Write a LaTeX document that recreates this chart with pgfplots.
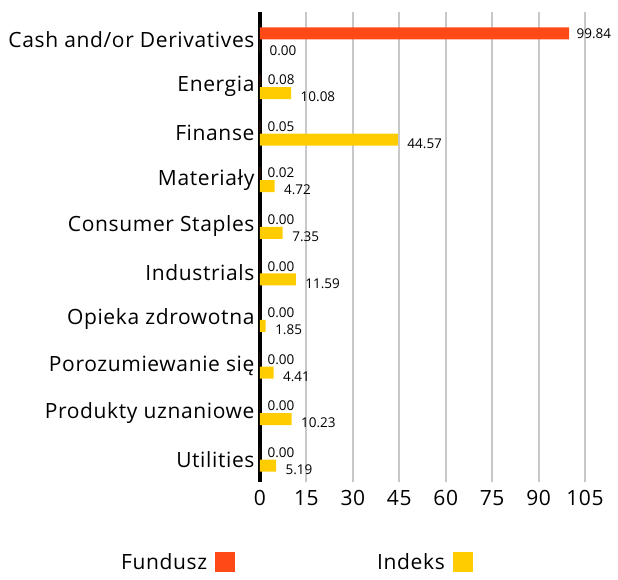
\documentclass[border=0pt]{standalone}
\usepackage{fontspec}
\setmainfont{Open Sans}
\newfontfamily\widefont[LetterSpace=3]{Open Sans}
\usepackage{pgfplots}
\pgfplotsset{compat=1.18}
\definecolor{fund}{HTML}{FF4A17}
\definecolor{idx}{HTML}{FFCC00}
\definecolor{gridc}{HTML}{C8C8C8}
\begin{document}
\begin{tikzpicture}
\begin{axis}[
  scale only axis,
  width=325pt, height=470pt,
  xbar, bar width=12pt,
  xmin=0, xmax=105,
  ymin=-0.49, ymax=9.6,
  xtick={0,15,...,105},
  ytick={0,...,9},
  yticklabels={Utilities,Produkty uznaniowe,Porozumiewanie się,Opieka zdrowotna,Industrials,Consumer Staples,Materiały,Finanse,Energia,Cash and/or Derivatives},
  /pgf/number format/assume math mode=true,
  ticklabel style={font=\widefont\fontsize{21}{25}\selectfont},
  xticklabel style={yshift=-5pt},
  yticklabel style={xshift=-2pt},
  major tick length=0pt,
  axis lines*=left,
  x axis line style={draw=none},
  y axis line style={line width=4pt, black},
  xmajorgrids,
  major grid style={gridc, line width=2pt},
  legend columns=2,
  legend plot pos=right,
  legend style={at={(rel axis cs:0,0)}, anchor=north west, xshift=-144pt, yshift=-67pt,
    draw=none, fill=none, font=\widefont\fontsize{21}{25}\selectfont,
    /tikz/every even column/.append style={column sep=140pt}},
  legend image code/.code={\path (0pt,0pt); \fill[#1] (6pt,-10pt) rectangle (26pt,10pt);},
  nodes near coords={\pgfmathprintnumber[fixed,fixed zerofill,precision=2]{\pgfplotspointmeta}},
  nodes near coords style={font=\fontsize{13.5}{15}\selectfont, black},
  clip=false,
]
\addplot[fill=fund, draw=none, bar shift=6.5pt,
  every node near coord/.append style={anchor=west, xshift=4pt}]
  coordinates {(99.84,9) (0.08,8) (0.05,7) (0.02,6) (0,5) (0,4) (0,3) (0,2) (0,1) (0,0)};
\addlegendentry{Fundusz}
\addplot[fill=idx, draw=none, bar shift=-6.5pt,
  every node near coord/.append style={anchor=west, xshift=6pt, yshift=-4pt}]
  coordinates {(0.00,9) (10.08,8) (44.57,7) (4.72,6) (7.35,5) (11.59,4) (1.85,3) (4.41,2) (10.23,1) (5.19,0)};
\addlegendentry{Indeks}
\end{axis}
\pgfresetboundingbox
\useasboundingbox (-260pt,-97pt) rectangle (358pt,482pt);
\end{tikzpicture}
\end{document}
